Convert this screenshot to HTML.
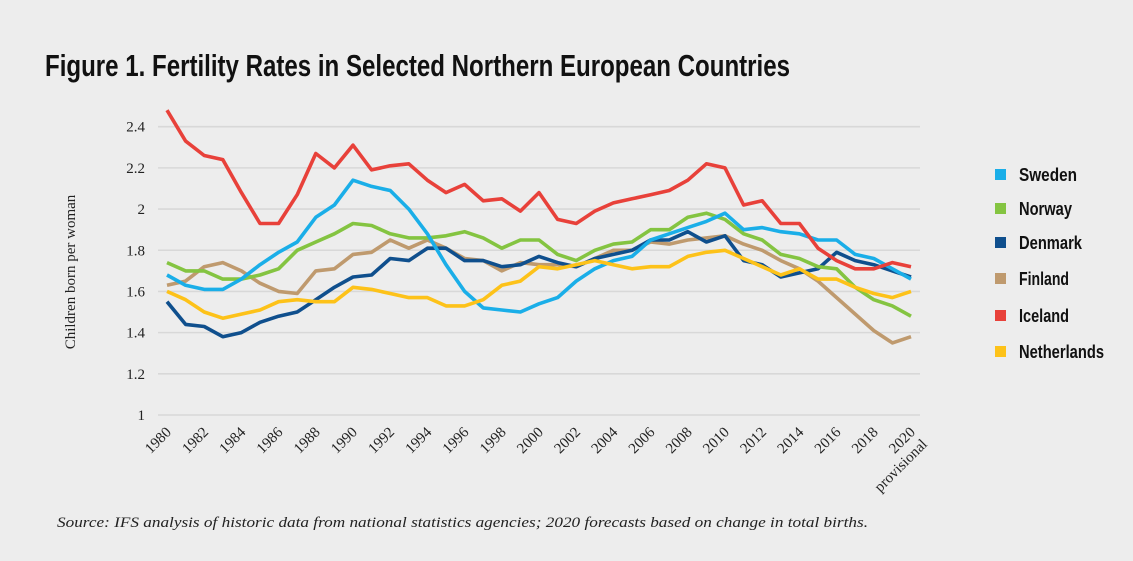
<!DOCTYPE html>
<html><head><meta charset="utf-8"><style>
html,body{margin:0;padding:0;background:#ededed;}
svg{display:block;}
</style></head><body>
<svg width="1133" height="561" viewBox="0 0 1133 561" xmlns="http://www.w3.org/2000/svg">
<rect width="1133" height="561" fill="#ededed"/>
<text x="45" y="76" font-family="Liberation Sans Narrow, Liberation Sans, sans-serif" font-weight="bold" font-size="31" fill="#111" textLength="745" lengthAdjust="spacingAndGlyphs">Figure 1. Fertility Rates in Selected Northern European Countries</text>
<g id="grid"></g>
<g id="yticks"></g>
<g id="xticks"></g>
<text transform="translate(75,272) rotate(-90)" text-anchor="middle" font-family="Liberation Serif, serif" font-size="15" fill="#222">Children born per woman</text>
<g id="lines"></g>
<g id="legend"></g>
<text x="57" y="527" font-family="Liberation Serif, serif" font-style="italic" font-size="14.5" fill="#222" textLength="811" lengthAdjust="spacingAndGlyphs">Source: IFS analysis of historic data from national statistics agencies; 2020 forecasts based on change in total births.</text>
</svg>
<script>
const years = [1980,1981,1982,1983,1984,1985,1986,1987,1988,1989,1990,1991,1992,1993,1994,1995,1996,1997,1998,1999,2000,2001,2002,2003,2004,2005,2006,2007,2008,2009,2010,2011,2012,2013,2014,2015,2016,2017,2018,2019,2020];
const yTicks = [1,1.2,1.4,1.6,1.8,2,2.2,2.4];
const yTickLabels = ["1","1.2","1.4","1.6","1.8","2","2.2","2.4"];
const xTickLabels = ["1980","1982","1984","1986","1988","1990","1992","1994","1996","1998","2000","2002","2004","2006","2008","2010","2012","2014","2016","2018","2020"];
const seriesNames = ["Sweden","Norway","Denmark","Finland","Iceland","Netherlands"];
const seriesColors = ["#1aaee8","#84c441","#0f4f8d","#bf9a6e","#e8413a","#fdc219"];
const sweden = [1.68,1.63,1.61,1.61,1.66,1.73,1.79,1.84,1.96,2.02,2.14,2.11,2.09,2.00,1.88,1.73,1.60,1.52,1.51,1.50,1.54,1.57,1.65,1.71,1.75,1.77,1.85,1.88,1.91,1.94,1.98,1.90,1.91,1.89,1.88,1.85,1.85,1.78,1.76,1.71,1.66];
const norway = [1.74,1.70,1.70,1.66,1.66,1.68,1.71,1.80,1.84,1.88,1.93,1.92,1.88,1.86,1.86,1.87,1.89,1.86,1.81,1.85,1.85,1.78,1.75,1.80,1.83,1.84,1.90,1.90,1.96,1.98,1.95,1.88,1.85,1.78,1.76,1.72,1.71,1.62,1.56,1.53,1.48];
const denmark = [1.55,1.44,1.43,1.38,1.40,1.45,1.48,1.50,1.56,1.62,1.67,1.68,1.76,1.75,1.81,1.81,1.75,1.75,1.72,1.73,1.77,1.74,1.72,1.76,1.78,1.80,1.85,1.85,1.89,1.84,1.87,1.75,1.73,1.67,1.69,1.71,1.79,1.75,1.73,1.70,1.67];
const finland = [1.63,1.65,1.72,1.74,1.70,1.64,1.60,1.59,1.70,1.71,1.78,1.79,1.85,1.81,1.85,1.81,1.76,1.75,1.70,1.74,1.73,1.73,1.72,1.76,1.80,1.80,1.84,1.83,1.85,1.86,1.87,1.83,1.80,1.75,1.71,1.65,1.57,1.49,1.41,1.35,1.38];
const iceland = [2.48,2.33,2.26,2.24,2.08,1.93,1.93,2.07,2.27,2.20,2.31,2.19,2.21,2.22,2.14,2.08,2.12,2.04,2.05,1.99,2.08,1.95,1.93,1.99,2.03,2.05,2.07,2.09,2.14,2.22,2.20,2.02,2.04,1.93,1.93,1.81,1.75,1.71,1.71,1.74,1.72];
const netherlands = [1.60,1.56,1.50,1.47,1.49,1.51,1.55,1.56,1.55,1.55,1.62,1.61,1.59,1.57,1.57,1.53,1.53,1.56,1.63,1.65,1.72,1.71,1.73,1.75,1.73,1.71,1.72,1.72,1.77,1.79,1.80,1.76,1.72,1.68,1.71,1.66,1.66,1.62,1.59,1.57,1.60];
const seriesData = [sweden, norway, denmark, finland, iceland, netherlands];

const NS = "http://www.w3.org/2000/svg";
function xs(yr){ return 167 + (yr-1980)*(911-167)/40; }
function ys(v){ return 415 - (v-1)*(415-126.7)/1.4; }
function mk(tag, attrs, parent){ const e=document.createElementNS(NS,tag); for(const k in attrs) e.setAttribute(k,attrs[k]); parent.appendChild(e); return e; }

const grid=document.getElementById('grid'), yt=document.getElementById('yticks'), xt=document.getElementById('xticks');
yTicks.forEach((v,i)=>{
  const l=mk('line',{x1:158,x2:920,y1:ys(v),y2:ys(v),stroke:'#d8d8d8','stroke-width':1.6},grid);
  
  
  const t=mk('text',{x:145,y:ys(v)+5,'text-anchor':'end','font-family':'Liberation Serif, serif','font-size':15,fill:'#222'},yt);
  t.textContent=yTickLabels[i];
  
  
});
xTickLabels.forEach((s,i)=>{
  const x=xs(+s)+5, y=433;
  const t=mk('text',{x:0,y:0,transform:`translate(${x},${y}) rotate(-45)`,'text-anchor':'end','font-family':'Liberation Serif, serif','font-size':15,fill:'#222'},xt);
  t.textContent=s;
  
  
  if(s==="2020"){
    const p=mk('text',{x:0,y:0,transform:`translate(${x+12},${y+12}) rotate(-45)`,'text-anchor':'end','font-family':'Liberation Serif, serif','font-size':15,fill:'#222'},xt);
    p.textContent='provisional';
    
    
  }
});
const lines=document.getElementById('lines'), leg=document.getElementById('legend');
const order=[3,2,1,0,5,4];
order.forEach(i=>{
  const d=seriesData[i].map((v,j)=>(j?'L':'M')+xs(years[j]).toFixed(1)+' '+ys(v).toFixed(1)).join(' ');
  const p=mk('path',{d:d,fill:'none',stroke:seriesColors[i],'stroke-width':3.6,'stroke-linejoin':'round'},lines);
  
  
});
const legY=[181,215,249,285,322,358];
seriesNames.forEach((n,i)=>{
  const r=mk('rect',{x:995,y:legY[i]-12,width:11,height:11,fill:seriesColors[i]},leg);
  
  
  const t=mk('text',{x:1019,y:legY[i],'font-family':'Liberation Sans Narrow, Liberation Sans, sans-serif','font-weight':'bold','font-size':18,fill:'#111',textLength:[58,53,63,50,50,85][i],lengthAdjust:'spacingAndGlyphs'},leg);
  t.textContent=n;
  
  
});
</script>
</body></html>
